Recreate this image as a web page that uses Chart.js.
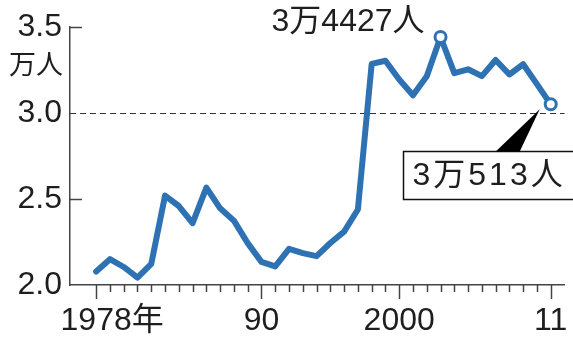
<!DOCTYPE html>
<html>
<head>
<meta charset="utf-8">
<script src="https://cdn.jsdelivr.net/npm/chart.js@4"></script>
<style>
  html, body { margin: 0; padding: 0; background: #fff; }
  #wrap { width: 573px; height: 340px; overflow: hidden; }
</style>
</head>
<body>
<div id="wrap"><canvas id="c" width="573" height="340"></canvas></div>
<script>
// 自殺者数の推移（万人）
const years = [1978, 1979, 1980, 1981, 1982, 1983, 1984, 1985, 1986, 1987,
               1988, 1989, 1990, 1991, 1992, 1993, 1994, 1995, 1996, 1997,
               1998, 1999, 2000, 2001, 2002, 2003, 2004, 2005, 2006, 2007,
               2008, 2009, 2010, 2011];
const suicides = [2.0788, 2.1503, 2.1048, 2.0434, 2.1228, 2.5202, 2.4596, 2.3599, 2.5667, 2.4460,
                  2.3742, 2.2436, 2.1346, 2.1084, 2.2104, 2.1851, 2.1679, 2.2445, 2.3104, 2.4391,
                  3.2863, 3.3048, 3.1957, 3.1042, 3.2143, 3.4427, 3.2325, 3.2552, 3.2155, 3.3093,
                  3.2249, 3.2845, 3.1690, 3.0513];

const yTicks = [2.0, 2.5, 3.0, 3.5];
const yUnit = '万人';
const xLabelYears = [1978, 1990, 2000, 2011];
const xLabels = ['1978年', '90', '2000', '11'];
const peakYear = 2003, peakText = '3万4427人';
const lastYear = 2011, lastText = '3万513人';
const refLine = 3.0;

const FONT = '"Liberation Sans", "Noto Sans CJK JP", sans-serif';
const BLUE = '#2f72b4';
const INK = '#1e1e1e';

const decorations = {
  id: 'decorations',
  beforeDatasetsDraw(chart) {
    const { ctx, chartArea: a, scales: { x, y } } = chart;
    ctx.save();
    // 3万人の基準線
    const yr = Math.round(y.getPixelForValue(refLine)) + 0.5;
    ctx.strokeStyle = '#333';
    ctx.lineWidth = 1;
    ctx.setLineDash([6, 4]);
    ctx.beginPath();
    ctx.moveTo(a.left, yr);
    ctx.lineTo(a.right, yr);
    ctx.stroke();
    ctx.setLineDash([]);

    // 縦軸の目盛り（内向き）
    ctx.strokeStyle = '#444';
    ctx.lineWidth = 1.5;
    [2.5, 3.5].forEach(v => {
      const py = Math.round(y.getPixelForValue(v)) + 0.5;
      ctx.beginPath();
      ctx.moveTo(a.left, py);
      ctx.lineTo(a.left + 12, py);
      ctx.stroke();
    });

    // 横軸の目盛り（毎年、ラベル年は長く）
    years.forEach(yrv => {
      const px = Math.round(x.getPixelForValue(yrv)) + 0.5;
      const long = xLabelYears.includes(yrv);
      ctx.beginPath();
      ctx.moveTo(px, a.bottom);
      ctx.lineTo(px, a.bottom + (long ? 14 : 7));
      ctx.stroke();
    });

    // 横軸ラベル（数字部分を目盛りの中心に）
    ctx.fillStyle = INK;
    ctx.font = '32px ' + FONT;
    ctx.textBaseline = 'alphabetic';
    ctx.textAlign = 'left';
    xLabels.forEach((t, i) => {
      const px = x.getPixelForValue(xLabelYears[i]);
      const num = t.replace('年', '');
      const w = ctx.measureText(num).width;
      ctx.fillText(t, px - w / 2, a.bottom + 45);
    });

    // 単位
    ctx.font = '27px "Noto Sans CJK JP", sans-serif';
    ctx.textAlign = 'right';
    ctx.textBaseline = 'middle';
    ctx.fillText(yUnit, 63, y.getPixelForValue(3.5) + 37);
    ctx.restore();
  },
  afterDatasetsDraw(chart) {
    const { ctx, width, scales: { x, y } } = chart;
    ctx.save();
    ctx.fillStyle = INK;
    ctx.font = '32px ' + FONT;

    // 最多の年
    const pkx = x.getPixelForValue(peakYear);
    const pky = y.getPixelForValue(suicides[years.indexOf(peakYear)]);
    ctx.textAlign = 'right';
    ctx.textBaseline = 'middle';
    ctx.fillText(peakText, pkx - 16, pky - 15);

    // 最新の年（右端まで続く吹き出し）
    const lx = x.getPixelForValue(lastYear);
    const ly = y.getPixelForValue(suicides[years.indexOf(lastYear)]);
    const boxL = Math.round(lx - 148) + 0.5, boxT = Math.round(ly + 47) + 0.5, boxB = boxT + 48;
    ctx.fillStyle = '#fff';
    ctx.fillRect(boxL, boxT, width - boxL, boxB - boxT);
    ctx.strokeStyle = '#111';
    ctx.lineWidth = 1.5;
    ctx.beginPath();
    ctx.moveTo(width + 5, boxT);
    ctx.lineTo(boxL, boxT);
    ctx.lineTo(boxL, boxB);
    ctx.lineTo(width + 5, boxB);
    ctx.stroke();
    ctx.fillStyle = '#000';
    ctx.beginPath();
    ctx.moveTo(lx - 55, boxT);
    ctx.lineTo(lx - 31, boxT);
    ctx.lineTo(lx - 11, ly + 5);
    ctx.closePath();
    ctx.fill();
    ctx.fillStyle = INK;
    ctx.textAlign = 'left';
    ctx.textBaseline = 'middle';
    ctx.letterSpacing = '3px';
    ctx.fillText(lastText, boxL + 9, (boxT + boxB) / 2 + 1);
    ctx.restore();
  }
};

const points = years.map((yr, i) => ({ x: yr, y: suicides[i] }));
const marked = years.map(yr => (yr === peakYear || yr === lastYear));

new Chart(document.getElementById('c'), {
  type: 'line',
  data: {
    datasets: [{
      data: points,
      borderColor: BLUE,
      borderWidth: 6,
      borderJoinStyle: 'round',
      borderCapStyle: 'round',
      tension: 0,
      pointRadius: marked.map(m => m ? 5.5 : 0),
      pointBorderWidth: 3,
      pointBorderColor: BLUE,
      pointBackgroundColor: '#fff',
      pointHoverRadius: 0
    }]
  },
  options: {
    responsive: false,
    animation: false,
    events: [],
    layout: { padding: { left: 0, right: 6, top: 27, bottom: 55 } },
    plugins: { legend: { display: false }, tooltip: { enabled: false } },
    scales: {
      x: {
        type: 'linear',
        min: 1976.1,
        max: 2012,
        ticks: { display: false },
        grid: { display: false, drawTicks: false },
        border: { display: true, color: '#444', width: 1.5 },
        afterFit(s) { s.height = 0; }
      },
      y: {
        min: 2.0,
        max: 3.5,
        afterBuildTicks(s) { s.ticks = yTicks.map(v => ({ value: v })); },
        ticks: {
          padding: 8,
          color: INK,
          font: { family: FONT, size: 32 },
          callback: v => Number(v).toFixed(1)
        },
        grid: { display: false, drawTicks: false },
        border: { display: true, color: '#444', width: 1.5 },
        afterFit(s) { s.width = 70; }
      }
    }
  },
  plugins: [decorations]
});
</script>
</body>
</html>
